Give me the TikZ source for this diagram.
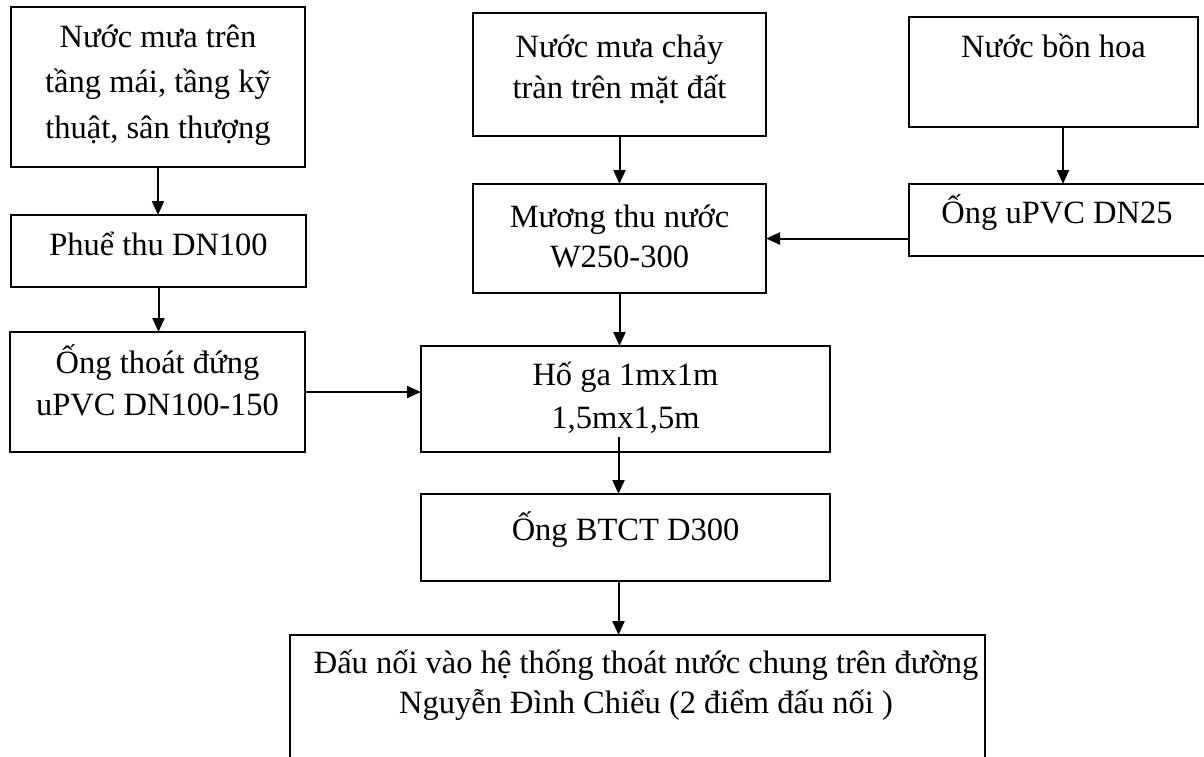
\documentclass[tikz,border=0pt]{standalone}
\usepackage{fontspec}
\setmainfont{Liberation Serif}
\usetikzlibrary{arrows.meta,calc}
\begin{document}
\begin{tikzpicture}[x=1pt,y=-1pt,
  box/.style={draw, line width=1.8pt, anchor=north west, inner sep=0pt, outer sep=0pt},
  txt/.style={font=\fontsize{32.5}{44}\selectfont, align=center, anchor=base, inner sep=0pt},
  arr/.style={line width=2pt, -{Triangle[width=12pt,length=14pt]}}]
\fill[white] (0,0) rectangle (1204,756);
\useasboundingbox (0,0) rectangle (1204,756);
% boxes
\node[box, minimum width=294pt, minimum height=160pt] (b1) at (11,7) {};
\node[box, minimum width=295pt, minimum height=72pt]  (b2) at (11,215) {};
\node[box, minimum width=295pt, minimum height=120pt] (b3) at (10,332) {};
\node[box, minimum width=293pt, minimum height=123pt] (b4) at (473,13) {};
\node[box, minimum width=293pt, minimum height=109pt] (b5) at (473,184) {};
\node[box, minimum width=289pt, minimum height=110pt] (b6) at (909,17) {};
\node[box, minimum width=296pt, minimum height=72pt]  (b7) at (909,184) {};
\node[box, minimum width=409pt, minimum height=106pt] (b8) at (421,346) {};
\node[box, minimum width=409pt, minimum height=87pt]  (b9) at (421,494) {};
\node[box, minimum width=695pt, minimum height=130pt] (b10) at (290,635) {};
% texts (anchor = baseline of the last line)
\node[txt] (t1) at (158,138) {Nước mưa trên\\[1.5pt]tầng mái, tầng kỹ\\[1.5pt]thuật, sân thượng};
\node[txt] (t2) at (158.5,255) {Phuể thu DN100};
\node[txt] (t3) at (157.5,415) {Ống thoát đứng\\[-2pt]uPVC DN100-150};
\node[txt] (t4) at (619.5,98) {Nước mưa chảy\\[-3pt]tràn trên mặt đất};
\node[txt] (t5) at (619.5,267) {Mương thu nước\\[-4pt]W250-300};
\node[txt] (t6) at (1053.5,57) {Nước bồn hoa};
\node[txt] (t7) at (1057,223) {Ống uPVC DN25};
\node[txt] (t8) at (625.5,428) {Hố ga 1mx1m\\[-1pt]1,5mx1,5m};
\node[txt] (t9) at (625.5,540) {Ống BTCT D300};
\node[txt] (t10) at (646,713) {Đấu nối vào hệ thống thoát nước chung trên đường\\[-4pt]Nguyễn Đình Chiểu (2 điểm đấu nối )};
% connectors
\draw[arr] (b1.south) -- (b1.south |- b2.north);
\draw[arr] (b2.south) -- (b2.south |- b3.north);
\draw[arr] (b4.south) -- (b4.south |- b5.north);
\draw[arr] ([xshift=9.5pt]b6.south) -- ([xshift=9.5pt]b6.south |- b7.north);
\draw[arr] (b5.east -| b7.west) -- (b5.east);
\draw[arr] (b3.east) -- (b3.east -| b8.west);
\draw[arr] (b5.south) -- (b5.south |- b8.north);
\coordinate (h) at ([xshift=-7pt,yshift=15pt]b8.south);
\draw[arr] (h) -- (h |- b9.north);
\draw[arr] ([xshift=-7pt]b9.south) -- ([xshift=-7pt]b9.south |- b10.north);
\end{tikzpicture}
\end{document}
